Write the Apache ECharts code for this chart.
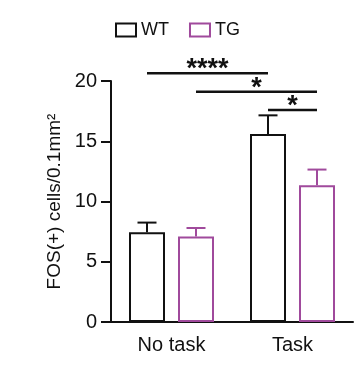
<!DOCTYPE html>
<html>
<head>
<meta charset="utf-8">
<script src="https://cdn.jsdelivr.net/npm/echarts@6/dist/echarts.min.js"></script>
<style>html,body{margin:0;padding:0;background:#fff}#c{width:359px;height:371px}</style>
</head>
<body>
<div id="c"></div>
<script>
const categories = ['No task', 'Task'];
const groups = ['WT', 'TG'];
const wtMean = [7.45, 15.6];
const wtSem = [0.8, 1.55];
const tgMean = [7.1, 11.35];
const tgSem = [0.7, 1.3];
const yTicks = [0, 5, 10, 15, 20];
// brackets: [category A, group A, category B, group B, height, label]
const brackets = [
  [0, 0, 1, 0, 20.65, '****'],
  [0, 1, 1, 1, 19.1, '*'],
  [1, 0, 1, 1, 17.6, '*']
];

const BLACK = '#111111';
const PURPLE = '#a04a9c';
const BAR_W = 36;
const GAP = 13;
const offsets = [-(BAR_W + GAP) / 2, (BAR_W + GAP) / 2];
const FONT = 'Liberation Sans, Arial, sans-serif';

function errRender(groupIdx, color) {
  return function (params, api) {
    const c = api.value(0), m = api.value(1), s = api.value(2);
    const p0 = api.coord([c, m]);
    const p1 = api.coord([c, m + s]);
    const x = p0[0] + offsets[groupIdx];
    const capHalf = 9.5;
    return {
      type: 'group',
      children: [
        { type: 'line', shape: { x1: x, y1: p0[1], x2: x, y2: p1[1] }, style: { stroke: color, lineWidth: 2 } },
        { type: 'line', shape: { x1: x - capHalf, y1: p1[1], x2: x + capHalf, y2: p1[1] }, style: { stroke: color, lineWidth: 2 } }
      ]
    };
  };
}

const chart = echarts.init(document.getElementById('c'), null, { renderer: 'canvas' });
chart.setOption({
  animation: false,
  backgroundColor: '#fff',
  textStyle: { fontFamily: FONT },
  legend: {
    data: groups,
    left: 110, top: 16,
    icon: 'rect',
    itemWidth: 20, itemHeight: 13,
    itemGap: 20,
    textStyle: { fontSize: 18, color: BLACK, fontFamily: FONT }
  },
  grid: { left: 111, right: 6, top: 81, bottom: 49, containLabel: false },
  xAxis: {
    type: 'category',
    data: categories,
    axisLine: { lineStyle: { color: BLACK, width: 2 } },
    axisTick: { alignWithLabel: true, length: 7, lineStyle: { color: BLACK, width: 2 } },
    axisLabel: { fontSize: 20, color: BLACK, margin: 13, fontFamily: FONT }
  },
  yAxis: {
    type: 'value',
    min: yTicks[0], max: yTicks[yTicks.length - 1], interval: yTicks[1] - yTicks[0],
    name: 'FOS(+) cells/0.1mm²',
    nameLocation: 'middle',
    nameGap: 45,
    nameTextStyle: { fontSize: 19, color: BLACK, fontFamily: FONT },
    axisLine: { show: true, lineStyle: { color: BLACK, width: 2 } },
    axisTick: { show: true, length: 10, lineStyle: { color: BLACK, width: 2 } },
    axisLabel: { fontSize: 20, color: BLACK, margin: 14, fontFamily: FONT },
    splitLine: { show: false }
  },
  series: [
    {
      name: 'WT', type: 'bar', data: wtMean, barWidth: BAR_W, barGap: (GAP / BAR_W * 100) + '%',
      itemStyle: { color: '#fff', borderColor: BLACK, borderWidth: 2 }
    },
    {
      name: 'TG', type: 'bar', data: tgMean, barWidth: BAR_W,
      itemStyle: { color: '#fff', borderColor: PURPLE, borderWidth: 2 }
    },
    {
      type: 'custom', renderItem: errRender(0, BLACK), z: 5,
      data: categories.map((c, i) => [i, wtMean[i], wtSem[i]])
    },
    {
      type: 'custom', renderItem: errRender(1, PURPLE), z: 5,
      data: categories.map((c, i) => [i, tgMean[i], tgSem[i]])
    },
    {
      type: 'custom', z: 6,
      renderItem: function (params, api) {
        const b = brackets[params.dataIndex];
        const pa = api.coord([b[0], b[4]]);
        const pb = api.coord([b[2], b[4]]);
        const xa = pa[0] + offsets[b[1]];
        const xb = pb[0] + offsets[b[3]];
        return {
          type: 'group',
          children: [
            { type: 'line', shape: { x1: xa, y1: pa[1], x2: xb, y2: pa[1] }, style: { stroke: BLACK, lineWidth: 2.5 } },
            { type: 'text', style: { text: b[5], x: (xa + xb) / 2, y: pa[1] + 10, align: 'center', verticalAlign: 'bottom', fill: BLACK, font: 'bold 27px ' + FONT } }
          ]
        };
      },
      data: brackets.map(b => [b[0], b[4]])
    }
  ]
});
</script>
</body>
</html>
